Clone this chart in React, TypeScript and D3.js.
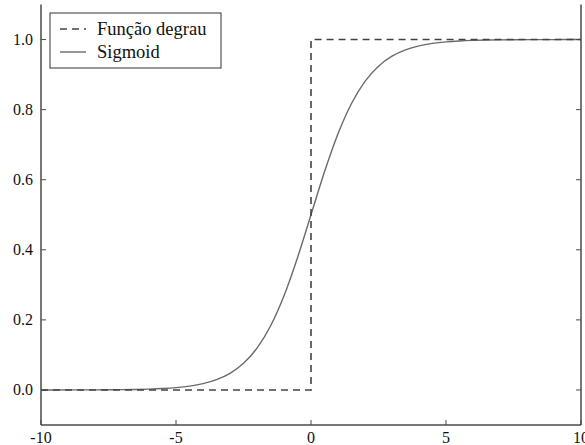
import React from "react";
import * as d3 from "d3";

// Sample positions along x and the logistic curve read at each one
const sigX = [
  -10, -9.5, -9, -8.5, -8, -7.5, -7, -6.5, -6, -5.5, -5, -4.5, -4, -3.5, -3, -2.5, -2, -1.5, -1, -0.5,
  0, 0.5, 1, 1.5, 2, 2.5, 3, 3.5, 4, 4.5, 5, 5.5, 6, 6.5, 7, 7.5, 8, 8.5, 9, 9.5, 10,
];
const sigY = [
  0.0000454, 0.0000748, 0.000123, 0.000203, 0.000335, 0.000553, 0.000911, 0.0015, 0.00247, 0.00407,
  0.00669, 0.011, 0.018, 0.0293, 0.0474, 0.0759, 0.1192, 0.1824, 0.2689, 0.3775,
  0.5, 0.6225, 0.7311, 0.8176, 0.8808, 0.9241, 0.9526, 0.9707, 0.982, 0.989,
  0.99331, 0.99593, 0.99753, 0.9985, 0.99909, 0.99945, 0.99966, 0.9998, 0.99988, 0.99993, 0.99995,
];

// Step function vertices
const stepX = [-10, 0, 0, 10];
const stepY = [0, 0, 1, 1];

const xTicks = [-10, -5, 0, 5, 10];
const yTicks = [0.0, 0.2, 0.4, 0.6, 0.8, 1.0];
const seriesNames = ["Função degrau", "Sigmoid"];

const W = 585;
const H = 445;
const left = 41;
const right = 581;
const top = 4.5;
const bottom = 425;

const font = "Liberation Serif";

export default function App() {
  const x = d3.scaleLinear().domain([-10, 10]).range([left, right]);
  const y = d3.scaleLinear().domain([-0.1, 1.1]).range([bottom, top]);

  const line = d3
    .line<[number, number]>()
    .x((d) => x(d[0]))
    .y((d) => y(d[1]));
  const smooth = d3
    .line<[number, number]>()
    .x((d) => x(d[0]))
    .y((d) => y(d[1]))
    .curve(d3.curveMonotoneX);

  const stepPts = stepX.map((v, i) => [v, stepY[i]] as [number, number]);
  const sigPts = sigX.map((v, i) => [v, sigY[i]] as [number, number]);

  const axisColor = "#4a4a4a";
  const textStyle = { fontFamily: font };

  return (
    <svg width={W} height={H} style={{ position: "absolute", left: 0, top: 0, background: "#fff" }}>
      <rect x={0} y={0} width={W} height={H} fill="#fff" />
      {/* curves */}
      <path d={smooth(sigPts) || ""} fill="none" stroke="#6a6a6a" strokeWidth={1.4} />
      <path
        d={line(stepPts) || ""}
        fill="none"
        stroke="#444"
        strokeWidth={1.6}
        strokeDasharray="7,5"
      />

      {/* spines */}
      <line x1={left} x2={left} y1={top} y2={bottom} stroke={axisColor} strokeWidth={1.5} />
      <line x1={right} x2={right} y1={top} y2={bottom} stroke={axisColor} strokeWidth={1.5} />
      <line x1={left} x2={right} y1={bottom} y2={bottom} stroke={axisColor} strokeWidth={1.5} />

      {/* x ticks */}
      {xTicks.map((t) => (
        <g key={"x" + t}>
          <line x1={x(t)} x2={x(t)} y1={bottom} y2={bottom - 5} stroke={axisColor} strokeWidth={1} />
          <text x={x(t)} y={443} textAnchor="middle" fontSize={16} fill="#111" style={textStyle}>
            {t}
          </text>
        </g>
      ))}

      {/* y ticks */}
      {yTicks.map((t) => (
        <g key={"y" + t}>
          <line x1={left} x2={left + 5} y1={y(t)} y2={y(t)} stroke={axisColor} strokeWidth={1} />
          <line x1={right} x2={right - 5} y1={y(t)} y2={y(t)} stroke={axisColor} strokeWidth={1} />
          <text x={33} y={y(t) + 5} textAnchor="end" fontSize={16} fill="#111" style={textStyle}>
            {t.toFixed(1)}
          </text>
        </g>
      ))}

      {/* legend */}
      <g>
        <rect x={50} y={13} width={171} height={55} fill="#fff" stroke="#333" strokeWidth={1} />
        <line x1={60} x2={86} y1={29} y2={29} stroke="#444" strokeWidth={1.6} strokeDasharray="7,5" />
        <text x={97} y={34.5} fontSize={18.5} fill="#111" style={textStyle}>
          {seriesNames[0]}
        </text>
        <line x1={60} x2={86} y1={52} y2={52} stroke="#6a6a6a" strokeWidth={1.4} />
        <text x={97} y={57.5} fontSize={18.5} fill="#111" style={textStyle}>
          {seriesNames[1]}
        </text>
      </g>
    </svg>
  );
}
